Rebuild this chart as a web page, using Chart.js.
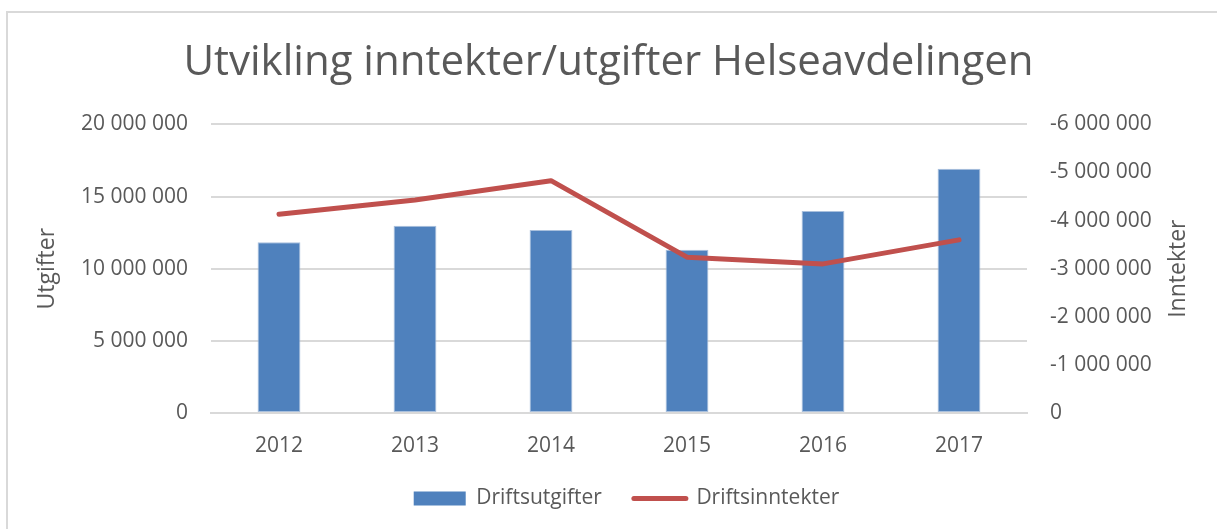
<!DOCTYPE html>
<html>
<head>
<meta charset="utf-8">
<script src="https://cdn.jsdelivr.net/npm/chart.js@4/dist/chart.umd.min.js"></script>
<style>
  html, body { margin: 0; padding: 0; background: #fff; }
  #wrap { position: relative; width: 1217px; height: 529px; overflow: hidden; }
  #frame { position: absolute; left: 6px; top: 11px; width: 1300px; height: 600px; border: 2px solid #d9d9d9; box-sizing: border-box; pointer-events: none; }
  canvas { position: absolute; left: 0; top: 0; }
</style>
</head>
<body>
<div id="wrap">
  <canvas id="c" width="1217" height="529"></canvas>
  <div id="frame"></div>
</div>
<script>
const chartTitle = 'Utvikling inntekter/utgifter Helseavdelingen';
const categories = ['2012', '2013', '2014', '2015', '2016', '2017'];
const driftsutgifter = [11830000, 12970000, 12690000, 11320000, 14000000, 16920000];
const driftsinntekter = [-4130000, -4430000, -4830000, -3240000, -3100000, -3600000];
const leftAxisTitle = 'Utgifter';
const rightAxisTitle = 'Inntekter';
const seriesNames = ['Driftsutgifter', 'Driftsinntekter'];

const FONT = "'Open Sans', 'DejaVu Sans', sans-serif";
const TXT = '#595959';

function fmt(v) {
  const s = Math.abs(Math.round(v)).toString().replace(/\B(?=(\d{3})+(?!\d))/g, ' ');
  return (v < 0 ? '-' : '') + s;
}

const rightTitlePlugin = {
  id: 'rightTitle',
  beforeDraw(chart) {
    if (chart.legend && !chart.legend._shifted) {
      chart.legend.left += 18;
      chart.legend.right += 18;
      chart.legend._shifted = true;
    }
  },
  afterDraw(chart) {
    const ctx = chart.ctx;
    ctx.save();
    ctx.font = '23px ' + FONT;
    ctx.fillStyle = TXT;
    ctx.textAlign = 'center';
    ctx.textBaseline = 'middle';
    ctx.translate(1178, (chart.chartArea.top + chart.chartArea.bottom) / 2);
    ctx.rotate(-Math.PI / 2);
    ctx.fillText(rightAxisTitle, 0, 0);
    ctx.restore();
  }
};

new Chart(document.getElementById('c'), {
  type: 'bar',
  data: {
    labels: categories,
    datasets: [
      {
        type: 'line',
        label: seriesNames[1],
        data: driftsinntekter,
        yAxisID: 'y2',
        borderColor: '#c0504d',
        backgroundColor: '#c0504d',
        borderWidth: 5,
        borderCapStyle: 'round',
        borderJoinStyle: 'round',
        pointRadius: 0,
        tension: 0,
        order: 0
      },
      {
        type: 'bar',
        label: seriesNames[0],
        data: driftsutgifter,
        yAxisID: 'y',
        backgroundColor: '#4f81bd',
        borderColor: '#a9c0dd',
        borderWidth: 1,
        borderSkipped: false,
        barPercentage: 0.315,
        categoryPercentage: 1.0,
        order: 1
      }
    ]
  },
  plugins: [rightTitlePlugin],
  options: {
    responsive: false,
    animation: false,
    devicePixelRatio: 1,
    layout: { padding: { left: 0, right: 0, top: 0, bottom: 10 } },
    plugins: {
      title: {
        display: true,
        text: chartTitle,
        color: TXT,
        font: { family: FONT, size: 42, weight: 'normal', lineHeight: 1.2 },
        padding: { top: 38, bottom: 36 }
      },
      legend: {
        position: 'bottom',
        reverse: true,
        labels: {
          color: TXT,
          font: { family: FONT, size: 21 },
          usePointStyle: true,
          pointStyleWidth: 52,
          boxHeight: 14,
          padding: 32,
          generateLabels(chart) {
            const items = Chart.defaults.plugins.legend.labels.generateLabels(chart);
            items.forEach(it => {
              if (it.datasetIndex === 1) { it.pointStyle = 'rect'; it.lineWidth = 0; it.strokeStyle = '#4f81bd'; }
              else { it.pointStyle = 'line'; it.lineWidth = 5; it.lineCap = 'round'; }
            });
            return items;
          }
        }
      },
      tooltip: { enabled: false }
    },
    scales: {
      x: {
        grid: { display: false, drawTicks: false },
        border: { display: true, color: '#d9d9d9', width: 2 },
        ticks: { color: TXT, font: { family: FONT, size: 21 }, padding: 20 },
        afterFit(s) { s.height = 43; }
      },
      y: {
        position: 'left',
        min: 0, max: 20000000,
        ticks: { stepSize: 5000000, color: TXT, font: { family: FONT, size: 21 }, padding: 23, callback: v => fmt(v) },
        grid: { color: '#d9d9d9', lineWidth: 2, drawTicks: false },
        border: { display: false },
        title: { display: true, text: leftAxisTitle, color: TXT, font: { family: FONT, size: 23 }, padding: { top: 34, bottom: 0 } },
        afterFit(s) { s.width = 211; }
      },
      y2: {
        position: 'right',
        reverse: true,
        min: -6000000, max: 0,
        ticks: { stepSize: 1000000, color: TXT, font: { family: FONT, size: 21 }, padding: 23, callback: v => fmt(v) },
        grid: { display: false, drawTicks: false },
        border: { display: false },
        afterFit(s) { s.width = 190; }
      }
    }
  }
});
</script>
</body>
</html>
